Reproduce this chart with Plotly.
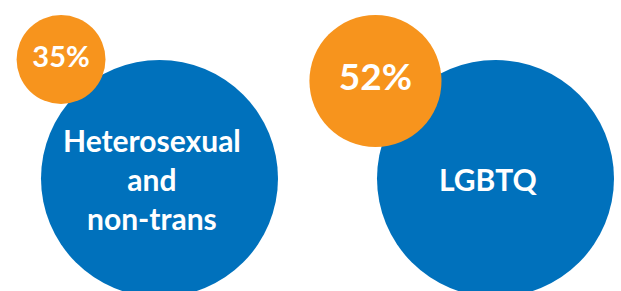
import plotly.graph_objects as go

# Data
groups = ["Heterosexual<br>and<br>non-trans", "LGBTQ"]
percent_values = [35, 52]
percent_labels = ["35%", "52%"]

# Layout constants (pixels)
W, H = 621, 291
blue_cx = [159.5, 495.5]
blue_cy = 178.5
blue_r = 118.5
px_per_pct = 1.27
orange_top = 15
gap = 54
label_xshift = -8

BLUE = "#0071BC"
ORANGE = "#F7941D"
FONT = "Lato"

orange_r = [v * px_per_pct for v in percent_values]
orange_cx = [bx - (r + gap) for bx, r in zip(blue_cx, orange_r)]
orange_cy = [orange_top + r for r in orange_r]

fig = go.Figure()

fig.add_trace(go.Scatter(
    x=blue_cx, y=[blue_cy] * len(groups),
    mode="markers",
    marker=dict(size=[2 * blue_r] * len(groups), color=BLUE, line=dict(width=0), opacity=1),
    cliponaxis=False, hoverinfo="skip", showlegend=False,
))

for x, g in zip(blue_cx, groups):
    fig.add_annotation(
        x=x, y=blue_cy, text=g, showarrow=False, xshift=label_xshift,
        xanchor="center", yanchor="middle", align="center",
        font=dict(family=FONT, size=30, color="white", weight="bold"),
    )

fig.add_trace(go.Scatter(
    x=orange_cx, y=orange_cy,
    mode="markers+text",
    text=percent_labels,
    textposition="middle center",
    textfont=dict(family=FONT, size=[29, 37], color="white", weight="bold"),
    marker=dict(size=[2 * r for r in orange_r], color=ORANGE, line=dict(width=0), opacity=1),
    cliponaxis=False, hoverinfo="skip", showlegend=False,
))

fig.update_layout(
    width=W, height=H,
    margin=dict(l=0, r=0, t=0, b=0),
    paper_bgcolor="white", plot_bgcolor="white",
    xaxis=dict(range=[0, W], visible=False, fixedrange=True),
    yaxis=dict(range=[H, 0], visible=False, fixedrange=True),
)

fig.write_html(
    "out.html",
    config={"displayModeBar": False},
    post_script="document.body.style.margin='0';document.body.style.overflow='hidden';",
)
